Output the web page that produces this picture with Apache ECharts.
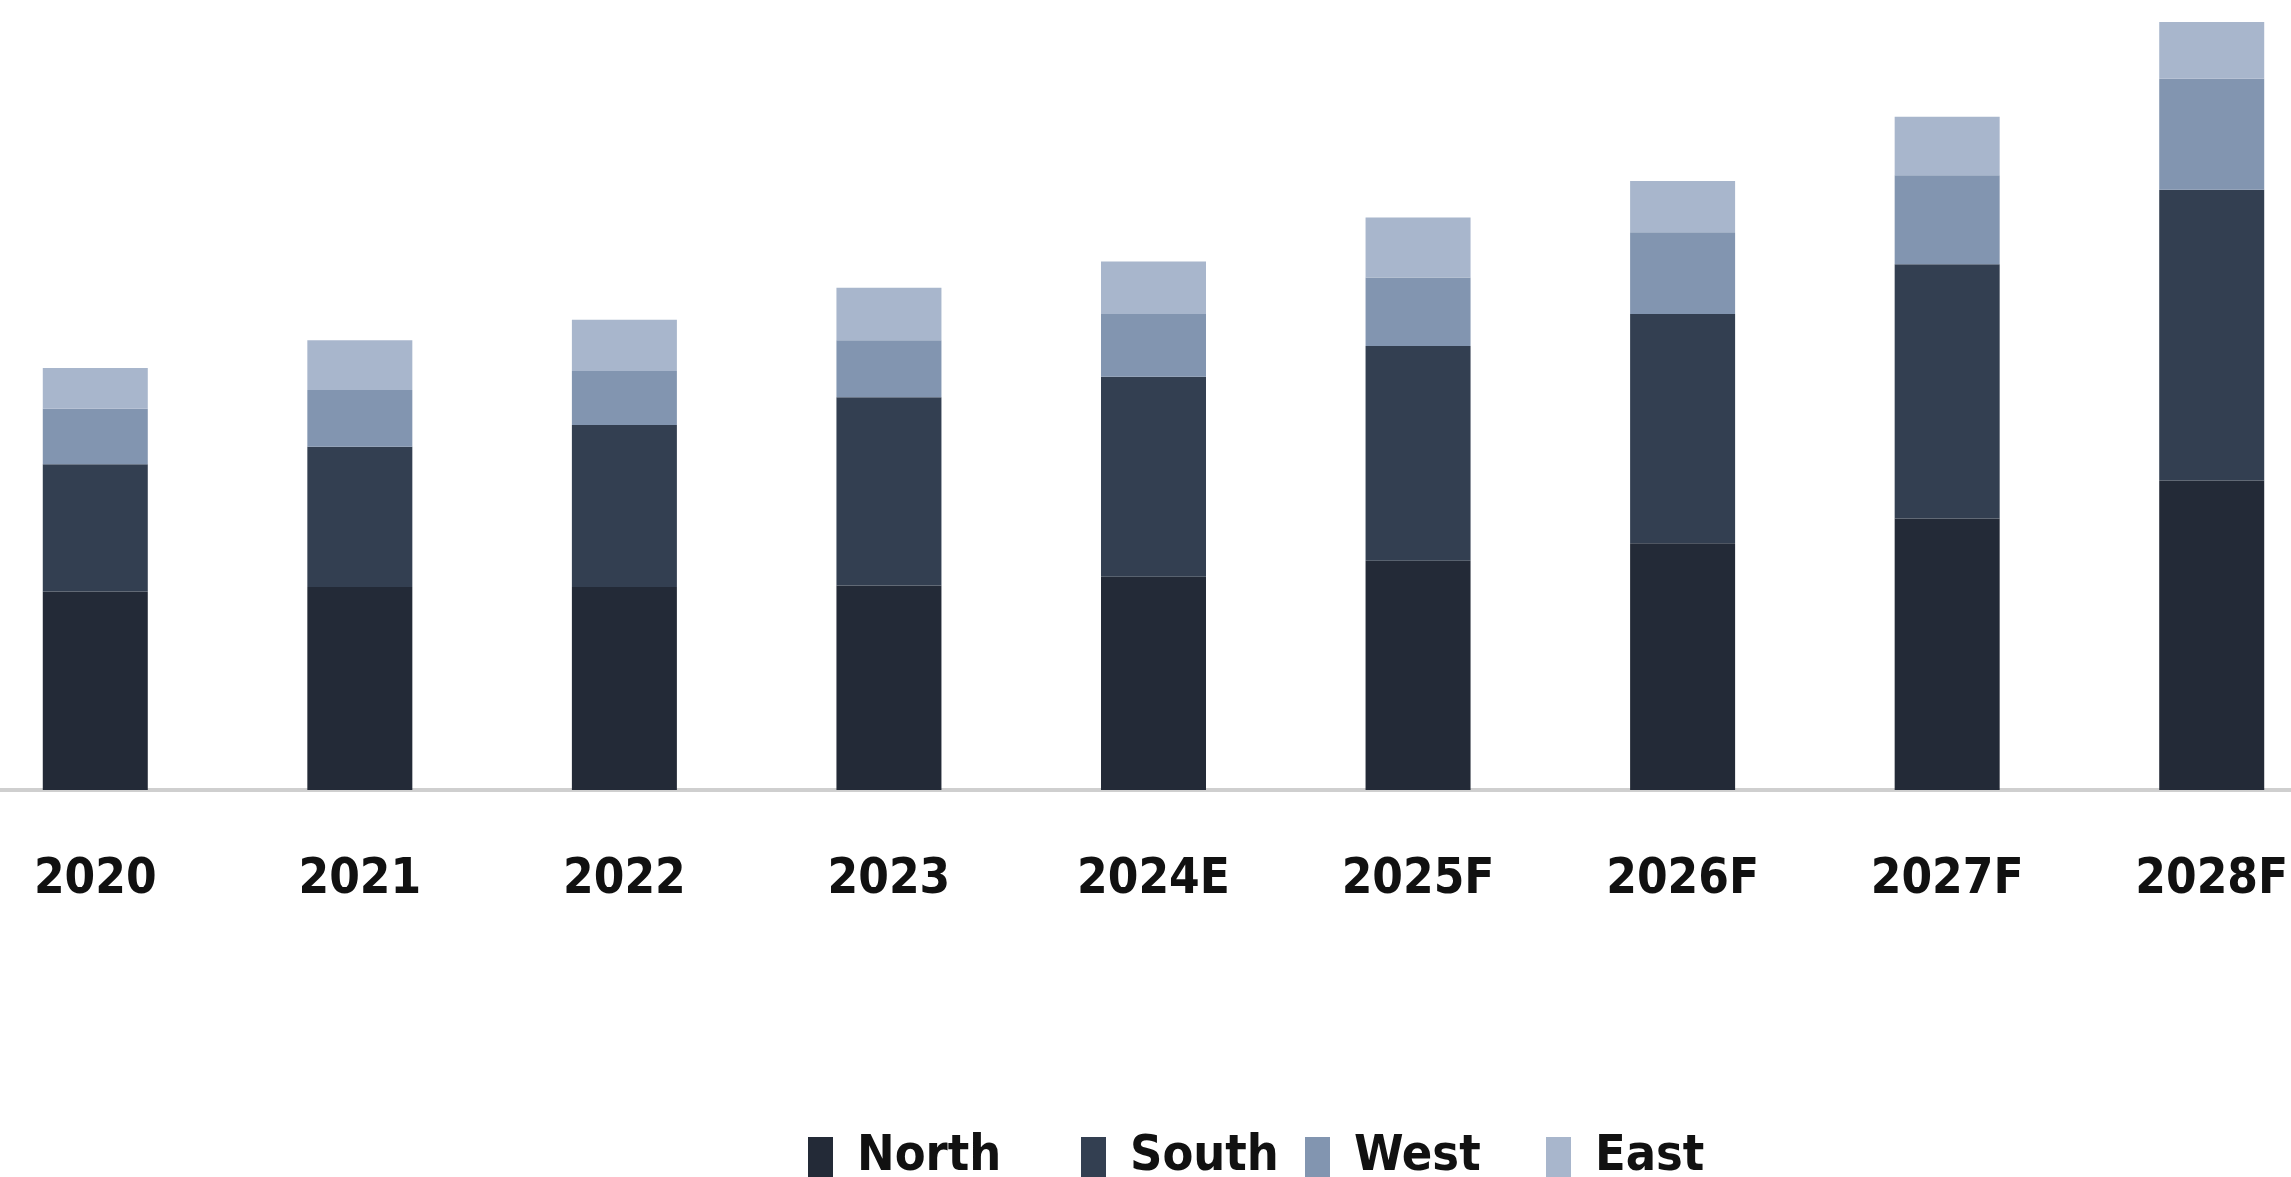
<!DOCTYPE html>
<html>
<head>
<meta charset="utf-8">
<script src="https://cdn.jsdelivr.net/npm/echarts@6/dist/echarts.min.js"></script>
<style>
html,body{margin:0;padding:0;background:#fff;overflow:hidden;width:2291px;height:1177px;}
#chart{position:absolute;left:-37px;top:0;width:2381px;height:1177px;}
</style>
</head>
<body>
<div id="chart"></div>
<script>
const categories = ['2020', '2021', '2022', '2023', '2024E', '2025F', '2026F', '2027F', '2028F'];
const north = [13.6, 13.9, 13.9, 14.0, 14.6, 15.7, 16.9, 18.6, 21.2];
const south = [8.7, 9.6, 11.1, 12.9, 13.7, 14.7, 15.7, 17.4, 19.9];
const west  = [3.8, 3.9, 3.7, 3.9, 4.3, 4.7, 5.6, 6.1, 7.6];
const east  = [2.8, 3.4, 3.5, 3.6, 3.6, 4.1, 3.5, 4.0, 3.9];
const seriesNames = ['North', 'South', 'West', 'East'];
const colors = ['#232a37', '#333f51', '#8295b0', '#a8b6cc'];
const legendLefts = [840, 1113, 1337, 1578];

const fontFam = '"Liberation Sans Narrow", "DejaVu Sans Condensed", "Liberation Sans", sans-serif';
const chart = echarts.init(document.getElementById('chart'), null, {renderer: 'canvas'});
const seriesData = [north, south, west, east];
chart.setOption({
  animation: false,
  backgroundColor: '#ffffff',
  color: colors,
  legend: seriesNames.map((name, i) => ({
    data: [name],
    left: legendLefts[i],
    top: 1127,
    itemWidth: 25,
    itemHeight: 40,
    icon: 'rect',
    textStyle: {
      fontFamily: fontFam,
      fontWeight: 'bold',
      fontSize: 50,
      color: '#111',
      padding: [0, 0, 0, 19]
    }
  })),
  grid: {
    left: 0,
    right: 0,
    top: 0,
    bottom: 387,
    containLabel: false
  },
  xAxis: {
    type: 'category',
    data: categories,
    axisTick: {show: false},
    axisLine: {show: true, lineStyle: {color: '#cfcfcf', width: 4}},
    axisLabel: {
      margin: 66,
      fontFamily: fontFam,
      fontWeight: 'bold',
      fontSize: 49,
      color: '#111'
    }
  },
  yAxis: {
    type: 'value',
    min: 0,
    max: 54.1,
    show: false,
    splitLine: {show: false}
  },
  series: seriesNames.map((name, i) => ({
    name: name,
    type: 'bar',
    stack: 'total',
    barWidth: 105,
    data: seriesData[i],
    itemStyle: {color: colors[i]}
  }))
});
</script>
</body>
</html>
